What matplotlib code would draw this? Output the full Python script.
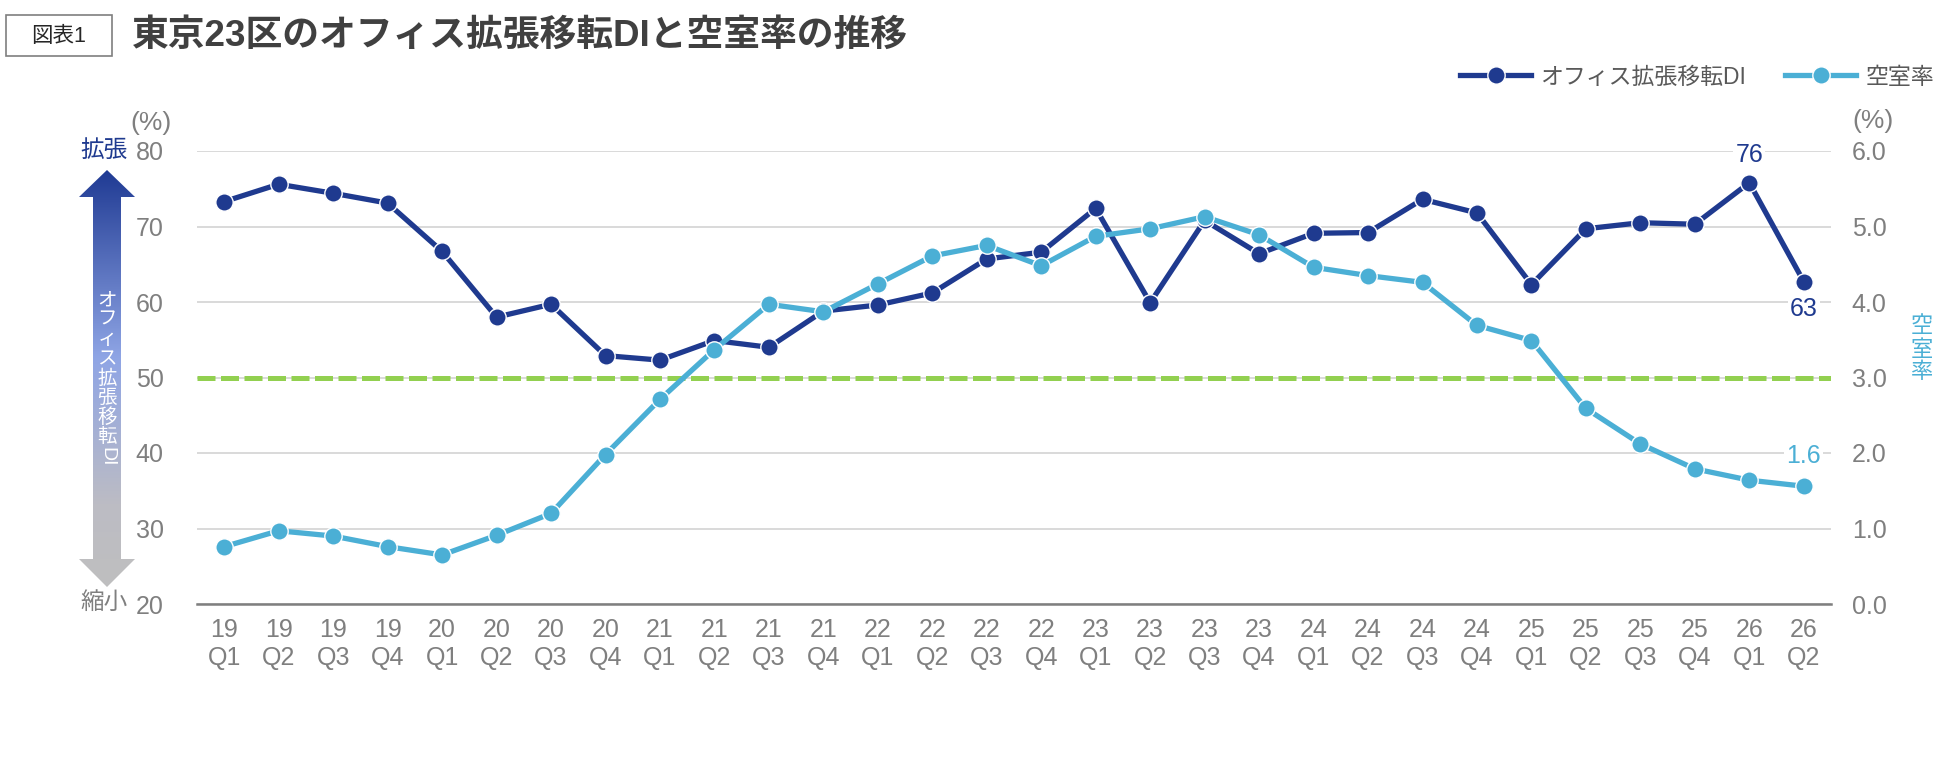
import matplotlib
matplotlib.use('Agg')
import matplotlib.pyplot as plt
import numpy as np
from matplotlib.colors import LinearSegmentedColormap
from matplotlib.patches import Polygon, Rectangle

plt.rcParams['font.family'] = ['Liberation Sans', 'Noto Sans CJK JP', 'DejaVu Sans']

# ---- data ----
years = ['19', '19', '19', '19', '20', '20', '20', '20', '21', '21', '21', '21',
         '22', '22', '22', '22', '23', '23', '23', '23', '24', '24', '24', '24',
         '25', '25', '25', '25', '26', '26']
qtrs = ['Q1', 'Q2', 'Q3', 'Q4'] * 7 + ['Q1', 'Q2']
di = [73.3, 75.6, 74.4, 73.1, 66.7, 58.0, 59.7, 52.9, 52.3, 54.9, 54.0, 58.8,
      59.6, 61.2, 65.7, 66.6, 72.4, 59.9, 70.8, 66.4, 69.1, 69.2, 73.6, 71.8,
      62.3, 69.7, 70.5, 70.3, 75.8, 62.7]
vacancy = [0.76, 0.97, 0.90, 0.76, 0.65, 0.91, 1.20, 1.98, 2.71, 3.37, 3.97, 3.87,
           4.24, 4.61, 4.75, 4.48, 4.87, 4.97, 5.13, 4.89, 4.46, 4.35, 4.26, 3.69,
           3.49, 2.59, 2.12, 1.79, 1.64, 1.56]
di_ticks = [20, 30, 40, 50, 60, 70, 80]
vac_ticks = [0, 1, 2, 3, 4, 5, 6]
di_base = 50

navy = '#1f3a8f'
sky = '#4bafd5'
green = '#92d050'
grey = '#7f7f7f'

W, H = 1950, 772
def fx(px): return px / W
def fy(py): return 1 - py / H

fig = plt.figure(figsize=(19.5, 7.72), dpi=100)

ax = fig.add_axes([fx(197), fy(604), (1831 - 197) / W, (604 - 151) / H])
xs = np.arange(len(di))
ax.set_xlim(-0.5, len(di) - 0.5)
ax.set_ylim(di_ticks[0], di_ticks[-1])
ax.set_yticks(di_ticks)
ax.set_xticks(xs)
ax.set_xticklabels([y + '\n' + q for y, q in zip(years, qtrs)])
ax.grid(axis='y', color='#d9d9d9', lw=1.4)
ax.set_axisbelow(True)
ax.axhline(di_base, color=green, lw=3.6, dashes=(3.6, 1.1), zorder=2)
l1, = ax.plot(xs, di, color=navy, lw=3.8, marker='o', ms=12.5, mec='white',
              mew=1, zorder=3, label='オフィス拡張移転DI')
for s in ['top', 'left', 'right']:
    ax.spines[s].set_visible(False)
ax.spines['bottom'].set_color(grey)
ax.spines['bottom'].set_linewidth(1.8)
ax.tick_params(axis='y', length=0, labelsize=18, labelcolor=grey, pad=24)
ax.tick_params(axis='x', length=0, labelsize=18, labelcolor=grey, pad=10)

ax2 = ax.twinx()
ax2.set_ylim(vac_ticks[0], vac_ticks[-1])
ax2.set_yticks(vac_ticks)
ax2.set_yticklabels([f'{v:.1f}' for v in vac_ticks])
l2, = ax2.plot(xs, vacancy, color=sky, lw=3.8, marker='o', ms=12.5, mec='white',
               mew=1, zorder=3, label='空室率')
for s in ax2.spines.values():
    s.set_visible(False)
ax2.tick_params(axis='y', length=0, labelsize=18, labelcolor=grey, pad=15)

# data labels
box = dict(fc='white', ec='none', pad=1.5)
ax.annotate(f'{di[-2]:.0f}', (xs[-2], di[-2]), xytext=(0, 20), textcoords='offset points',
            ha='center', va='center', fontsize=18, color=navy, bbox=box)
ax.annotate(f'{di[-1]:.0f}', (xs[-1], di[-1]), xytext=(0, -20), textcoords='offset points',
            ha='center', va='center', fontsize=18, color=navy, bbox=box)
ax2.annotate(f'{vacancy[-1]:.1f}', (xs[-1], vacancy[-1]), xytext=(0, 21.5),
             textcoords='offset points', ha='center', va='center', fontsize=18,
             color=sky, bbox=box)

# legend
fig.legend([l1, l2], [l1.get_label(), l2.get_label()], loc='center right',
           bbox_to_anchor=(fx(1934), fy(77)), ncol=2, frameon=False, fontsize=16.5,
           handlelength=3.1, handletextpad=0.4, columnspacing=1.7,
           labelcolor='#595959', borderaxespad=0, borderpad=0)

# unit labels
fig.text(fx(151), fy(123), '(%)', ha='center', va='center', fontsize=19, color=grey)
fig.text(fx(1873), fy(121), '(%)', ha='center', va='center', fontsize=19, color=grey)
fig.text(fx(104), fy(151), '拡張', ha='center', va='center', fontsize=17, color=navy)
fig.text(fx(104), fy(603), '縮小', ha='center', va='center', fontsize=17, color=grey)
for i, ch in enumerate('空室率'):
    fig.text(fx(1922), fy(327 + 23 * i), ch, ha='center', va='center', fontsize=16, color=sky)

# gradient arrow on the left
aa = fig.add_axes([fx(79), fy(588), (135 - 79) / W, (588 - 169) / H])
aa.set_xlim(79, 135)
aa.set_ylim(588, 169)
aa.axis('off')
cmap = LinearSegmentedColormap.from_list('arr', [(0, '#1f3a93'), (0.45, '#8fa5e5'),
                                                 (0.8, '#bcbcc4'), (1, '#bfbfbf')])
grad = np.linspace(0, 1, 256).reshape(-1, 1)
im = aa.imshow(grad, cmap=cmap, aspect='auto', extent=[79, 135, 588, 169])
arrow = Polygon([(107, 170), (135, 197), (121, 197), (121, 559), (135, 559), (107, 587),
                 (79, 559), (93, 559), (93, 197), (79, 197)], closed=True,
                transform=aa.transData, fc='none', ec='none')
aa.add_patch(arrow)
im.set_clip_path(arrow)
for i, ch in enumerate('オフィス拡張移転'):
    fig.text(fx(107), fy(301 + 19.5 * i), ch, ha='center', va='center', fontsize=14, color='white')
fig.text(fx(107), fy(457), 'DI', ha='center', va='center', fontsize=14, color='white', rotation=270)

# title
fig.patches.append(Rectangle((fx(6), fy(56)), (112 - 6) / W, (56 - 15) / H,
                             transform=fig.transFigure, fc='white', ec=grey, lw=1.2))
fig.text(fx(59), fy(36), '図表1', ha='center', va='center', fontsize=15.5, color='#262626')
fig.text(fx(132), fy(36), '東京23区のオフィス拡張移転DIと空室率の推移', ha='left', va='center',
         fontsize=26.5, fontweight='bold', color='#404040')

fig.savefig('out.png', dpi=100)
